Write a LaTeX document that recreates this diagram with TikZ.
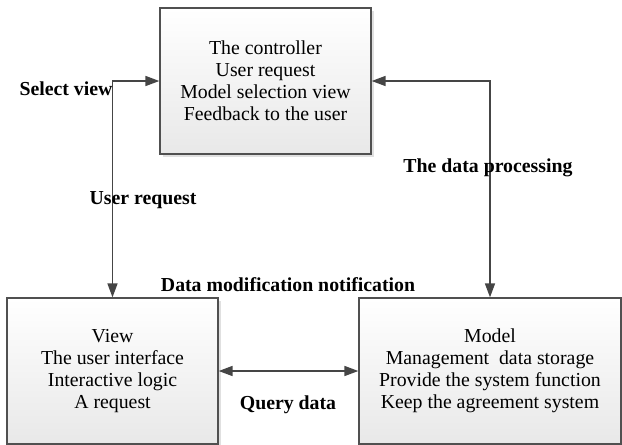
\documentclass[tikz,border=0pt]{standalone}
\usepackage{fontspec}
\setmainfont{Liberation Serif}
\usetikzlibrary{arrows.meta,shadows}
\definecolor{linec}{HTML}{454545}
\definecolor{boxline}{HTML}{505050}
\tikzset{
  box/.style={draw=boxline, line width=1.3pt, rectangle, top color=white, bottom color=black!9,
    minimum height=146pt, align=center, inner sep=0pt,
    font=\fontsize{19.8}{22}\selectfont,
    drop shadow={shadow xshift=2.5pt, shadow yshift=-2.5pt, fill=black!12, opacity=1}},
  lab/.style={font=\fontsize{19.8}{22}\selectfont\bfseries, inner sep=0pt},
  conn/.style={draw=linec, line width=1.6pt, {Triangle[length=14pt,width=10pt]}-{Triangle[length=14pt,width=10pt]}},
}
\begin{document}
\begin{tikzpicture}[x=1pt,y=-1pt]
\useasboundingbox (0,0) rectangle (622,445);
\node[box, minimum width=211pt] (ctrl) at (265.5,81) {The controller\\User request\\Model selection view\\Feedback to the user};
\node[box, minimum width=211pt] (view) at (112.5,371) {View\\The user interface\\Interactive logic\\A request};
\node[box, minimum width=262pt] (model) at (490,371) {Model\\Management\ \ data storage\\Provide the system function\\Keep the agreement system};
\draw[conn] (ctrl.west) -| (view.north);
\draw[conn] (ctrl.east) -| (model.north);
\draw[conn] (view.east) -- (model.west);
\node[lab] (l1) at (66,89) {Select view};
\node[lab] (l2) at (143,200) {User request};
\node[lab] (l3) at (488,168) {The data processing};
\node[lab] (l4) at (288,285) {Data modification notification};
\node[lab] (l5) at (288,405) {Query data};
\end{tikzpicture}
\end{document}
